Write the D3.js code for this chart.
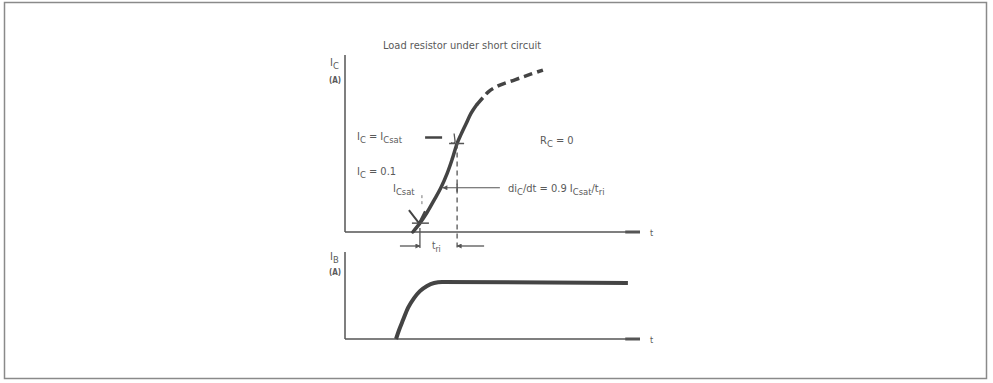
<!DOCTYPE html>
<html>
<head>
<meta charset="utf-8">
<script src="https://cdn.jsdelivr.net/npm/d3@7"></script>
<style>
  body { margin: 0; background: #fff; }
  text { font-family: 'Liberation Sans Narrow', 'DejaVu Sans Condensed', sans-serif; fill: #5a5a5a; }
</style>
</head>
<body>
<div id="chart"></div>
<script>
// Collector current rise (normalised to I_C max)
const TIME_IC = [23, 25.4, 27.8, 30.2, 32.5, 34.6, 36.3, 38, 39.3, 41, 42.7, 44.7, 46.8, 48.8, 52.5, 57.6, 62.7, 67.1]
const IC = [0, 0.05, 0.11, 0.18, 0.25, 0.33, 0.41, 0.5, 0.55, 0.61, 0.67, 0.72, 0.76, 0.795, 0.83, 0.86, 0.89, 0.915]
const IC_DASH_FROM = 11 // points from here on are drawn dashed

// Base current step
const TIME_IB = [17.3, 18.3, 19.7, 21.4, 23.4, 25.4, 27.8, 30.2, 32.9, 95.9]
const IB = [0, 0.1, 0.22, 0.36, 0.47, 0.55, 0.61, 0.644, 0.655, 0.644]

// Rise-time markers: [time, I_C level]
const RISE_START = [25.4, 0.05]
const RISE_END = [38, 0.5]
const SLOPE_AT = [32.5, 0.25, 52.5] // time on curve, level, end of leader line

const W = 993, H = 383

const svg = d3.select('#chart').append('svg')
  .attr('width', W).attr('height', H)

// scanned frame
svg.append('rect')
  .attr('x', 4.5).attr('y', 2.5).attr('width', 982).attr('height', 376)
  .attr('fill', 'none').attr('stroke', '#8a8a8a').attr('stroke-width', 1.5)

const defs = svg.append('defs')
defs.append('marker')
  .attr('id', 'head').attr('viewBox', '0 0 10 10')
  .attr('refX', 9).attr('refY', 5)
  .attr('markerWidth', 6).attr('markerHeight', 5)
  .attr('markerUnits', 'userSpaceOnUse')
  .attr('orient', 'auto')
  .append('path').attr('d', 'M0,0L10,5L0,10z').attr('fill', '#555')

const x = d3.scaleLinear().domain([0, 100]).range([345, 640])
const yC = d3.scaleLinear().domain([0, 1]).range([232, 55])
const yB = d3.scaleLinear().domain([0, 1]).range([339, 252])

// text with subscripts: parts = [[text, isSub], ...]
function label(px, py, parts, size = 11) {
  const t = svg.append('text').attr('x', px).attr('y', py).attr('font-size', size)
  let shift = 0
  parts.forEach(([s, sub]) => {
    const target = sub ? 3 : 0
    t.append('tspan')
      .attr('font-size', sub ? size * 0.85 : size)
      .attr('dy', target - shift)
      .text(s)
    shift = target
  })
  return t
}

function axes(y) {
  const g = svg.append('g').attr('stroke', '#555').attr('fill', 'none')
  g.append('line')
    .attr('x1', x(0)).attr('x2', x(0)).attr('y1', y(1)).attr('y2', y(0))
    .attr('stroke-width', 1.5)
  g.append('line')
    .attr('x1', x(0)).attr('x2', x(100)).attr('y1', y(0)).attr('y2', y(0))
    .attr('stroke-width', 1.5)
  g.append('line')
    .attr('x1', x(95)).attr('x2', x(100)).attr('y1', y(0)).attr('y2', y(0))
    .attr('stroke-width', 3)
  svg.append('text')
    .attr('x', x(100) + 10).attr('y', y(0) + 4)
    .attr('font-size', 9).text('t')
}

axes(yC)
axes(yB)

// axis captions
label(330, 66, [['I', 0], ['C', 1]])
svg.append('text').attr('x', 329).attr('y', 83).attr('font-size', 8).attr('font-weight', 'bold').text('(A)')
label(330, 260, [['I', 0], ['B', 1]])
svg.append('text').attr('x', 329).attr('y', 275).attr('font-size', 8).attr('font-weight', 'bold').text('(A)')

svg.append('text')
  .attr('x', 383).attr('y', 49).attr('font-size', 11)
  .text('Load resistor under short circuit')

// I_C curve, solid then dashed
const icData = TIME_IC.map((t, i) => ({ t, v: IC[i] }))
const lineC = d3.line().x(d => x(d.t)).y(d => yC(d.v)).curve(d3.curveCatmullRom.alpha(0.5))

svg.append('path')
  .datum(icData.slice(0, IC_DASH_FROM + 1))
  .attr('fill', 'none').attr('stroke', '#444').attr('stroke-width', 3.5)
  .attr('stroke-linecap', 'round')
  .attr('d', lineC)

svg.append('path')
  .datum(icData.slice(IC_DASH_FROM))
  .attr('fill', 'none').attr('stroke', '#444').attr('stroke-width', 3.5)
  .attr('stroke-dasharray', '9,5')
  .attr('d', lineC)

// I_B curve
const ibData = TIME_IB.map((t, i) => ({ t, v: IB[i] }))
svg.append('path')
  .datum(ibData)
  .attr('fill', 'none').attr('stroke', '#444').attr('stroke-width', 4)
  .attr('d', d3.line().x(d => x(d.t)).y(d => yB(d.v)).curve(d3.curveMonotoneX))

// dashed guide at the 100 % point
svg.append('line')
  .attr('x1', x(RISE_END[0])).attr('x2', x(RISE_END[0]))
  .attr('y1', yC(RISE_END[1])).attr('y2', yC(0) + 16)
  .attr('stroke', '#555').attr('stroke-width', 1.3).attr('stroke-dasharray', '5,4')

// tick at start of rise on the time axis
svg.append('line')
  .attr('x1', x(RISE_START[0])).attr('x2', x(RISE_START[0]))
  .attr('y1', yC(0) - 4).attr('y2', yC(0) + 16)
  .attr('stroke', '#555').attr('stroke-width', 1.3)

// marker at I_C = I_Csat
const sx = x(RISE_END[0]), sy = yC(RISE_END[1])
svg.append('line').attr('x1', sx - 8).attr('x2', sx + 7).attr('y1', sy).attr('y2', sy)
  .attr('stroke', '#555').attr('stroke-width', 1.5)
svg.append('path').attr('d', `M${sx - 3},${sy - 10}L${sx - 2},${sy - 2}Q${sx - 3},${sy + 1} ${sx - 6},${sy - 1}`)
  .attr('fill', 'none').attr('stroke', '#555').attr('stroke-width', 1.3)
svg.append('line').attr('x1', sx - 32).attr('x2', sx - 15).attr('y1', sy - 6).attr('y2', sy - 6)
  .attr('stroke', '#444').attr('stroke-width', 2.5)

// marker at I_C = 0.1 I_Csat
const mx = x(RISE_START[0]), my = yC(RISE_START[1])
svg.append('line').attr('x1', mx - 8).attr('x2', mx + 9).attr('y1', my).attr('y2', my)
  .attr('stroke', '#555').attr('stroke-width', 1.5)
svg.append('path').attr('d', `M${mx - 11},${my - 13}L${mx - 1},${my}M${mx + 5},${my - 12}L${mx - 1},${my}`)
  .attr('fill', 'none').attr('stroke', '#444').attr('stroke-width', 2)
svg.append('line').attr('x1', mx + 2).attr('x2', mx + 2).attr('y1', my - 28).attr('y2', my - 16)
  .attr('stroke', '#777').attr('stroke-width', 1).attr('stroke-dasharray', '3,3')

// slope leader
const ly = yC(SLOPE_AT[1])
svg.append('line')
  .attr('x1', x(SLOPE_AT[2])).attr('x2', x(SLOPE_AT[0]) + 2).attr('y1', ly).attr('y2', ly)
  .attr('stroke', '#555').attr('stroke-width', 1.2).attr('marker-end', 'url(#head)')
svg.append('line')
  .attr('x1', sx).attr('x2', sx).attr('y1', ly - 4).attr('y2', ly + 4)
  .attr('stroke', '#555').attr('stroke-width', 1.5)

// t_ri dimension arrows
const dy = yC(0) + 14
svg.append('line').attr('x1', mx - 20).attr('x2', mx).attr('y1', dy).attr('y2', dy)
  .attr('stroke', '#555').attr('stroke-width', 1.3).attr('marker-end', 'url(#head)')
svg.append('line').attr('x1', sx + 27).attr('x2', sx).attr('y1', dy).attr('y2', dy)
  .attr('stroke', '#555').attr('stroke-width', 1.3).attr('marker-end', 'url(#head)')
label(mx + 12, dy + 3, [['t', 0], ['ri', 1]], 10)

// annotations
label(357, 140, [['I', 0], ['C', 1], [' = I', 0], ['Csat', 1]])
label(357, 175, [['I', 0], ['C', 1], [' = 0.1', 0]])
label(393, 192, [['I', 0], ['Csat', 1]])
label(540, 144, [['R', 0], ['C', 1], [' = 0', 0]])
label(508, 192, [['di', 0], ['C', 1], ['/dt = 0.9 I', 0], ['Csat', 1], ['/t', 0], ['ri', 1]])
</script>
</body>
</html>
